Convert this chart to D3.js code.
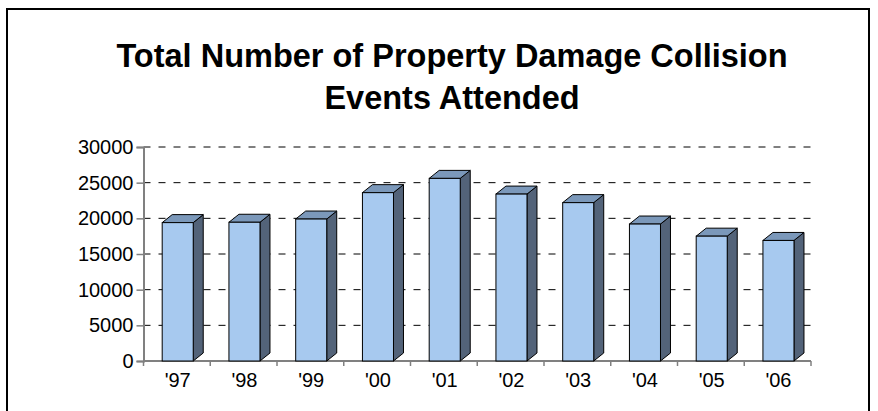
<!DOCTYPE html>
<html>
<head>
<meta charset="utf-8">
<script src="https://cdn.jsdelivr.net/npm/d3@7"></script>
<style>
  html, body { margin: 0; padding: 0; background: #fff; }
  svg { display: block; }
  text { font-family: "Liberation Sans", Arial, sans-serif; }
</style>
</head>
<body>
<svg id="chart" width="878" height="411"></svg>
<script>
const categories = ["'97", "'98", "'99", "'00", "'01", "'02", "'03", "'04", "'05", "'06"];
const values = [19400, 19450, 19900, 23600, 25600, 23400, 22200, 19200, 17500, 16900];
const yTicks = [0, 5000, 10000, 15000, 20000, 25000, 30000];
const titleLines = ["Total Number of Property Damage Collision", "Events Attended"];

const FONT = "'Liberation Sans', Arial, sans-serif";
const svg = d3.select("#chart");

// frame
svg.append("rect")
  .attr("x", 7).attr("y", 9).attr("width", 862).attr("height", 430)
  .attr("fill", "#fff").attr("stroke", "#000").attr("stroke-width", 2);

// title
svg.append("g").selectAll("text").data(titleLines).join("text")
  .attr("x", 452)
  .attr("y", (d, i) => 67 + i * 42)
  .attr("text-anchor", "middle")
  .attr("font-family", FONT)
  .attr("font-size", 32.5)
  .attr("font-weight", "bold")
  .attr("fill", "#000")
  .text(d => d);

const plotL = 143.5, plotR = 811, y0 = 361, yTop = 147;
const x = d3.scaleBand().domain(categories).range([plotL, plotR]).paddingInner(0).paddingOuter(0);
const y = d3.scaleLinear().domain([0, 30000]).range([y0, yTop]);

// gridlines
svg.append("g").selectAll("line").data(yTicks.filter(t => t > 0)).join("line")
  .attr("x1", plotL).attr("x2", plotR)
  .attr("y1", d => y(d)).attr("y2", d => y(d))
  .attr("stroke", "#000").attr("stroke-width", 1)
  .attr("stroke-dasharray", "7,8");

// y axis
const yAxis = d3.axisLeft(y).tickValues(yTicks).tickSize(7).tickPadding(3).tickFormat(d3.format("d"));
const gy = svg.append("g").attr("transform", `translate(${plotL},0)`).call(yAxis);
gy.select(".domain").attr("stroke", "#808080").attr("stroke-width", 2);
gy.selectAll(".tick line").attr("stroke", "#808080").attr("stroke-width", 1.5);
gy.selectAll(".tick text").attr("font-size", 20).attr("fill", "#000")
  .attr("font-family", FONT);

// x axis baseline with ticks at band boundaries
const gx = svg.append("g");
gx.append("line").attr("x1", plotL).attr("x2", plotR).attr("y1", y0).attr("y2", y0)
  .attr("stroke", "#808080").attr("stroke-width", 2);
const bounds = categories.map(c => x(c)).concat([plotR]);
gx.selectAll("line.t").data(bounds).join("line").attr("class", "t")
  .attr("x1", d => d).attr("x2", d => d).attr("y1", y0).attr("y2", y0 + 5)
  .attr("stroke", "#808080").attr("stroke-width", 1.5);

// bars (3D)
const bw = x.bandwidth();
const fOff = bw * 0.28, fW = bw * 0.465;
const dx = 10, dy = 8;
const bars = svg.append("g").selectAll("g").data(categories.map((c, i) => ({c, v: values[i]}))).join("g");
bars.each(function(d) {
  const g = d3.select(this);
  const xl = x(d.c) + fOff, xr = xl + fW, yt = y(d.v), yb = y(0);
  g.append("path")
    .attr("d", `M${xr},${yt}L${xr+dx},${yt-dy}L${xr+dx},${yb-dy}L${xr},${yb}Z`)
    .attr("fill", "#536379").attr("stroke", "#000").attr("stroke-width", 1).attr("stroke-linejoin", "round");
  g.append("path")
    .attr("d", `M${xl},${yt}L${xl+dx},${yt-dy}L${xr+dx},${yt-dy}L${xr},${yt}Z`)
    .attr("fill", "#7b98ba").attr("stroke", "#000").attr("stroke-width", 1).attr("stroke-linejoin", "round");
  g.append("rect")
    .attr("x", xl).attr("y", yt).attr("width", fW).attr("height", yb - yt)
    .attr("fill", "#a7c9ef").attr("stroke", "#000").attr("stroke-width", 1);
});

// x labels
svg.append("g").selectAll("text").data(categories).join("text")
  .attr("x", d => x(d) + fOff + fW / 2)
  .attr("y", 387)
  .attr("text-anchor", "middle")
  .attr("font-family", FONT)
  .attr("font-size", 20)
  .attr("fill", "#000")
  .text(d => d);
</script>
</body>
</html>
